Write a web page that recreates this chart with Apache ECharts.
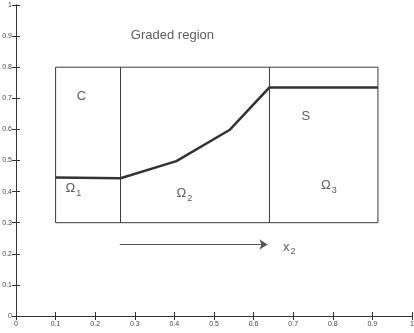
<!DOCTYPE html>
<html>
<head>
<meta charset="utf-8">
<script src="https://cdn.jsdelivr.net/npm/echarts@6/dist/echarts.min.js"></script>
<style>
  html, body { margin: 0; padding: 0; background: #fff; }
  #chart { width: 414px; height: 333px; }
</style>
</head>
<body>
<div id="chart"></div>
<script>
var chart = echarts.init(document.getElementById('chart'));

// region box and dividers
var boxX = [0.1, 0.914];
var boxY = [0.3, 0.8];
var dividerX = [0.264, 0.64];

// the thick graded profile
var profileX = [0.1, 0.264, 0.405, 0.539, 0.64, 0.914];
var profileY = [0.445, 0.443, 0.498, 0.598, 0.735, 0.735];

// x2 arrow
var arrowX = [0.262, 0.635];
var arrowY = [0.23, 0.23];

// text labels
var labelText = ['Graded region', 'C', 'S', '{o|Ω}{s|1}', '{o|Ω}{s|2}', '{o|Ω}{s|3}', '{o|x}{s|2}'];
var labelX = [0.395, 0.165, 0.732, 0.145, 0.425, 0.79, 0.69];
var labelY = [0.903, 0.707, 0.641, 0.41, 0.395, 0.42, 0.222];

var lineCol = '#3a3a3a';

function seg(xs, ys) {
  return xs.map(function (x, i) { return [x, ys[i]]; });
}

var outline = [
  [boxX[0], boxY[0]], [boxX[1], boxY[0]], [boxX[1], boxY[1]],
  [boxX[0], boxY[1]], [boxX[0], boxY[0]]
];

var thin = { color: lineCol, width: 1 };

var series = [
  { type: 'line', data: outline, symbol: 'none', lineStyle: thin, silent: true },
  { type: 'line', data: [[dividerX[0], boxY[0]], [dividerX[0], boxY[1]]], symbol: 'none', lineStyle: thin },
  { type: 'line', data: [[dividerX[1], boxY[0]], [dividerX[1], boxY[1]]], symbol: 'none', lineStyle: thin },
  { type: 'line', data: seg(profileX, profileY), symbol: 'none', lineStyle: { color: '#333', width: 2.5 } },
  {
    type: 'lines', coordinateSystem: 'cartesian2d',
    data: [{ coords: seg(arrowX, arrowY) }],
    symbol: ['none', 'arrow'], symbolSize: 8,
    lineStyle: { color: '#555', width: 1.2, opacity: 1 }
  },
  {
    type: 'scatter', symbolSize: 0,
    data: labelText.map(function (t, i) { return { value: [labelX[i], labelY[i]], name: t }; }),
    label: {
      show: true, position: 'inside',
      formatter: function (p) { return p.name; },
      fontFamily: 'Liberation Sans, Arial, sans-serif',
      fontSize: 13, color: '#333',
      rich: {
        o: { fontSize: 13, color: '#333', fontFamily: 'Liberation Sans, Arial, sans-serif' },
        s: { fontSize: 9, color: '#333', padding: [10, 0, 0, 1], fontFamily: 'Liberation Sans, Arial, sans-serif' }
      }
    }
  }
];

var axisCommon = {
  type: 'value', min: 0, max: 1, interval: 0.1,
  axisLine: { show: true, lineStyle: { color: '#333', width: 1 } },
  axisTick: { show: true, inside: true, length: 4, lineStyle: { color: '#333' } },
  splitLine: { show: false }
};

option = {
  backgroundColor: '#fff',
  animation: false,
  grid: { left: 16, right: 2, top: 5, bottom: 17, outerBoundsMode: 'none', containLabel: false },
  xAxis: [
    Object.assign({}, axisCommon, {
      position: 'bottom',
      axisLabel: { fontSize: 7, color: '#444', margin: 5, fontFamily: 'Liberation Sans, Arial' }
    }),
    Object.assign({}, axisCommon, { position: 'top', axisLabel: { show: false } })
  ],
  yAxis: [
    Object.assign({}, axisCommon, {
      position: 'left',
      axisLabel: { fontSize: 7, color: '#444', margin: 4, fontFamily: 'Liberation Sans, Arial' }
    }),
    Object.assign({}, axisCommon, { position: 'right', axisLabel: { show: false } })
  ],
  series: series
};

chart.setOption(option);
</script>
</body>
</html>
